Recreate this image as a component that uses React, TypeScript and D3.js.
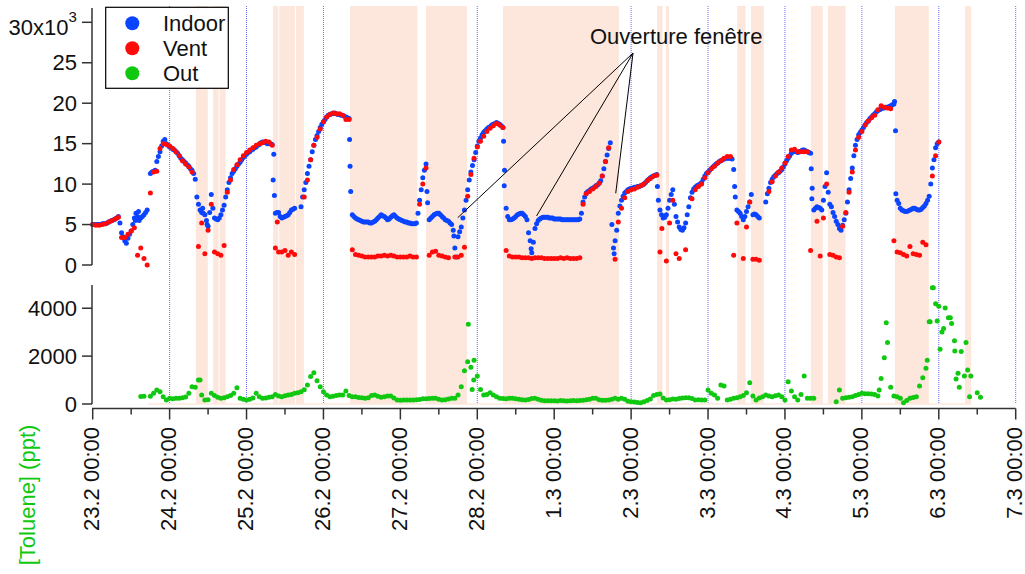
import React from 'react';
import * as d3 from 'd3';

// hours since 23.2 00:00, values in 10^3 ppt (top panel) and ppt (bottom panel)
const dayLabels = ['23.2 00:00', '24.2 00:00', '25.2 00:00', '26.2 00:00', '27.2 00:00', '28.2 00:00', '1.3 00:00',
  '2.3 00:00', '3.3 00:00', '4.3 00:00', '5.3 00:00', '6.3 00:00', '7.3 00:00'];
const topTicks = [0, 5, 10, 15, 20, 25, 30];
const bottomTicks = [0, 2000, 4000];

// indoor: one reading every half hour from 23.2 00:00
const indoorStart = 0;
const indoorStep = 0.5;
const indoor = [
  5.0, 5.0, 5.0, 5.0, 5.0, 5.0, 5.1, 5.1, 5.1, 5.2, 5.3, 5.4, 5.5, 5.6, 5.7, 5.8, 6.0, 5.2, 4.0, 3.5,
  3.0, 2.7, 3.3, 3.8, 4.2, 5.0, 5.8, 6.4, 6.0, 5.5, 5.8, 6.0, 6.2, 6.5, 6.8, null, 11.3, 11.5, 11.6, 11.7,
  12.8, 13.4, 14.0, 14.7, 15.3, 15.5, 15.0, 14.8, 14.6, 14.5, 14.3, 14.2, 14.0, 13.8, 13.5, 13.2, 13.0, 12.8, 12.6, 12.4,
  12.2, 11.9, 11.7, 11.3, 10.6, 8.4, 7.5, 6.8, 6.5, 6.4, 6.2, 5.5, 4.8, 6.5, 8.7, 7.0, 5.8, 5.7, 5.6, 5.8,
  6.2, 6.8, 7.4, 8.4, 9.3, 10.2, 10.8, 11.3, 11.6, 11.9, 12.2, 12.5, 12.7, 13.0, 13.3, 13.5, 13.7, 13.9, 14.0, 14.2,
  14.3, 14.5, 14.6, 14.8, 14.9, 15.1, 15.2, 15.2, 15.1, 15.0, 15.0, 15.0, 14.9, 13.7, 6.4, 6.5, 6.5, 6.0, 5.8, 5.9,
  6.0, 6.1, 6.2, 6.5, 6.8, 6.9, 7.0, null, null, null, 7.2, 8.4, 9.3, 10.2, 11.3, 12.2, 13.0, 14.0, 14.8, 15.5,
  16.0, 16.5, 17.0, 17.4, 17.7, 18.0, 18.3, 18.5, 18.6, 18.7, 18.7, 18.8, 18.7, 18.6, 18.6, 18.5, 18.5, 18.4, 18.3, 18.2,
  18.1, 9.1, 6.2, 6.0, 5.8, 5.7, 5.6, 5.5, 5.4, 5.3, 5.3, 5.3, 5.3, 5.2, 5.2, 5.3, 5.4, 5.6, 5.8, 6.0,
  6.2, 6.1, 6.0, 5.8, 5.6, 5.7, 5.9, 6.1, 6.2, 6.0, 5.8, 5.7, 5.6, 5.5, 5.4, 5.3, 5.3, 5.2, 5.2, 5.1,
  5.1, 5.1, 5.2, 6.4, 8.0, 9.3, 10.8, 11.7, 12.5, 7.7, 5.6, 5.8, 6.0, 6.2, 6.3, 6.4, 6.4, 6.2, 6.0, 5.8,
  5.6, 5.5, 5.4, 5.2, 5.0, 4.3, 2.1, 1.0, 3.5, 4.1, 4.7, 5.8, 6.8, 8.0, 9.3, 10.5, 11.5, 12.3, 13.0, 13.9,
  14.7, 15.3, 15.7, 16.1, 16.4, 16.6, 16.8, 17.0, 17.1, 17.3, 17.4, 17.5, 17.6, 17.5, 17.4, 17.2, 17.0, 11.7, 7.0, 6.0,
  5.6, 5.6, 5.7, 5.8, 6.0, 6.2, 6.3, 6.4, 6.4, 6.2, 6.0, 5.6, 4.0, 3.0, 1.5, 2.8, 4.5, 5.1, 5.5, 5.7,
  5.8, 5.9, 5.9, 5.9, 5.9, 5.8, 5.8, 5.8, 5.7, 5.7, 5.7, 5.7, 5.7, 5.6, 5.6, 5.6, 5.6, 5.6, 5.6, 5.6,
  5.6, 5.6, 5.6, 5.6, 5.7, 6.4, 7.8, 8.4, 8.9, 9.1, 9.2, 9.4, 9.5, 9.6, 9.8, 9.9, 10.1, 10.4, 11.0, 11.9,
  12.8, 13.6, 14.4, 15.1, 5.0, 2.1, 3.0, 4.3, 6.4, 7.3, 8.0, 8.5, 8.9, 9.1, 9.3, 9.4, 9.5, 9.5, 9.6, 9.6,
  9.7, 9.7, 9.8, 9.9, 10.0, 10.2, 10.4, 10.6, 10.8, 10.9, 11.0, 11.1, 11.2, 8.0, 6.8, 6.2, 5.8, 5.9, 6.2, 7.0,
  8.0, 8.7, 9.3, 7.5, 6.0, 5.3, 4.7, 4.4, 4.3, 4.6, 5.2, 6.2, 7.2, 8.3, 9.0, 9.4, 9.6, 9.8, 9.9, 10.0,
  10.2, 10.6, 11.0, 11.3, 11.5, 11.7, 11.9, 12.1, 12.3, 12.5, 12.6, 12.8, 12.9, 13.0, 13.1, 13.2, 13.2, 13.2, 13.2, 13.1,
  11.8, 8.4, 6.8, 6.6, 6.4, 6.0, 5.6, 6.0, 6.6, 7.2, 7.8, 8.7, 6.2, 6.3, 6.2, 6.0, 5.8, null, null, null,
  7.8, 8.8, 9.5, 10.2, 10.6, 10.9, 11.1, 11.3, 11.4, 11.6, 11.8, 12.1, 12.5, 12.9, 13.2, 13.5, 13.8, 14.0, 14.1, 14.0,
  13.9, 14.0, 14.1, 14.2, 14.2, 14.1, 14.0, 13.9, 13.8, 9.5, 6.8, 7.0, 7.2, 7.1, 7.0, 6.8, 8.0, 9.7, 11.4, 9.0,
  7.5, 7.2, 6.5, 6.0, 5.4, 5.0, 4.5, 4.3, 4.9, 5.6, 6.4, 7.8, 9.3, 10.7, 12.0, 13.5, 14.8, 15.5, 16.1, 16.4,
  16.7, 17.0, 17.3, 17.6, 17.8, 18.1, 18.3, 18.5, 18.7, 18.9, 19.1, 19.2, 19.3, 19.4, 19.4, 19.5, 19.5, 19.6, 19.7, 19.8,
  19.9, 16.6, 8.0, 7.6, 7.0, 6.8, 6.7, 6.6, 6.6, 6.7, 6.8, 6.9, 7.0, 7.0, 6.9, 6.8, 6.8, 6.9, 7.1, 7.3,
  7.6, 8.0, 8.5, 10.0, 12.0, 13.0, 14.5, 15.0, 15.2,
];
// scattered points during fast drops / rises: [hour, value]
const indoorExtra = [
  [13.3, 5.5], [14.3, 6.6], [34.3, 7.0], [35.7, 5.0], [56.3, 10.5], [56.7, 8.6],
  [80.15, 15.5], [80.3, 12.2], [104.3, 9.1], [112.7, 3.6], [128.2, 15.3], [128.4, 9.8],
  [136.8, 2.0], [162.7, 1.4], [176.2, 9.7], [200.3, 9.7], [224.2, 11.9], [224.4, 8.2],
  [250.2, 20.2], [250.6, 8.8],
];

const ventStart = 0;
const ventStep = 1;
const vent = [
  5.0, 4.9, 4.9, 5.0, 5.1, 5.3, 5.5, 5.7, 5.9, 3.4,
  3.4, 3.8, 4.2, 4.6, 1.2, 2.1, 0.8, 0.0, 8.9, 11.5,
  11.6, 14.4, 15.0, 14.9, 14.7, 14.4, 14.0, 13.5, 12.9, 12.5,
  12.1, 11.5, null, 2.3, 5.2, 1.4, 4.3, 7.5, 1.6, 1.4,
  1.2, 2.4, 9.0, 10.5, 11.8, 12.4, 13.0, 13.5, 13.9, 14.2,
  14.5, 14.8, 15.0, 15.1, 15.3, 15.2, 14.8, 2.1, 1.6, 1.6,
  1.8, 1.2, 1.6, 1.3, null, null, 8.4, 10.5, 13.0, 14.8,
  15.8, 16.8, 17.7, 18.3, 18.6, 18.8, 18.7, 18.7, 18.5, 18.0,
  18.0, 1.9, 1.3, 1.2, 1.1, 1.0, 1.0, 1.0, 1.0, 1.1,
  1.1, 1.2, 1.1, 1.2, 1.1, 1.0, 1.0, 1.0, 1.0, 1.1,
  1.0, 1.0, 7.5, 10.0, 12.0, 1.2, 1.6, 1.7, 1.2, 1.1,
  1.0, 0.9, null, 1.0, 1.0, 1.2, 2.2, 8.5, 11.2, 13.2,
  14.6, 15.3, 15.9, 16.5, 16.9, 17.2, 17.5, 17.3, 17.0, 1.8,
  1.1, 1.0, 1.0, 1.0, 0.9, 0.9, 0.9, 0.8, 0.9, 0.9,
  0.9, 0.8, 0.8, 0.8, 0.8, 0.8, 0.9, 0.8, 0.9, 0.8,
  0.8, 0.8, 0.9, 7.5, 8.8, 9.1, 9.4, 9.7, 10.1, 11.0,
  12.8, 14.5, null, 0.7, 5.3, 7.0, 8.3, 9.1, 9.3, 9.4,
  9.6, 9.8, 10.0, 10.4, 10.7, 11.0, 11.1, 1.6, null, 0.5,
  5.2, 8.0, 1.4, 0.8, null, 1.9, null, 8.2, 9.3, 9.7,
  10.0, 10.8, 11.4, 11.9, 12.2, 12.6, 12.9, 13.2, 13.4, 13.4,
  1.2, 5.2, null, 0.8, 4.7, 7.8, 0.7, 0.7, 0.6, null,
  null, 9.1, 10.3, 11.0, 11.5, 12.0, 12.6, 13.4, 14.2, 14.3,
  14.0, 14.0, 14.0, 14.0, 1.8, null, 5.4, 1.1, 5.8, 10.0,
  1.3, 1.2, 1.0, 0.9, 4.8, 6.5, 9.0, 11.5, 14.2, 15.8,
  16.5, 17.3, 17.8, 18.2, 18.5, 19.2, 19.7, 19.5, 19.4, 19.3,
  3.0, 1.6, 1.5, 1.3, 1.1, 2.3, 1.4, 1.3, 1.2, 2.8,
  2.5, null, 11.0, 13.5, 15.2,
];
const ventExtra = [[57.6, 5.3], [177.6, 4.5]];

const outStart = 15;
const outStep = 1;
const out = [
  310, 320, null, 320, 445, 580, 510, 300, 170, 235,
  220, 240, 235, 260, 290, 445, 720, 700, 1000, 380,
  170, 180, 445, 350, 280, 235, 260, 305, 350, 445,
  680, 235, 200, 170, 200, 250, 445, 300, 235, 250,
  280, 300, 400, 330, 305, 340, 375, 400, 445, 470,
  515, 600, 790, 1150, 1300, 970, 720, 515, 380, 305,
  320, 350, 375, 380, 540, 350, 305, 300, 270, 260,
  235, 260, 350, 375, 320, 280, 300, 330, 335, 250,
  170, 160, 165, 170, 170, 170, 180, 190, 220, 220,
  230, 235, 235, 200, 170, 180, 210, 235, 235, 375,
  720, 1390, 1765, 1530, 1830, 1170, 610, 375, 400, 470,
  380, 300, 235, 230, 220, 240, 235, 220, 200, 180,
  170, 190, 230, 235, 200, 160, 140, 140, 140, 140,
  130, 150, 140, 130, 140, 150, 140, 150, 160, 180,
  200, 235, 235, 180, 160, 160, 170, 200, 235, 200,
  235, 200, 110, 95, 80, 60, 55, 90, 150, 210,
  350, 400, 420, 250, 170, 180, 210, 200, 230, 250,
  265, 260, 230, 170, 180, 170, 170, 580, 450, 375,
  235, 790, 750, 170, 200, 235, 260, 305, 350, 470,
  890, 330, 170, 250, 300, 375, 330, 305, 340, 375,
  300, 170, 930, 540, 300, 170, 400, 1170, 235, 240,
  235, null, null, null, null, null, null, 95, 580, 235,
  260, 280, 305, 350, 400, 445, 430, 430, 420, 400,
  335, 1070, 1930, 2570, 695, 335, 300, 235, 55, 150,
  235, 270, 305, 750, 1100, 1490, 3430, 4860, 4190, 4080,
  3010, 4010, 3600, 3360, 2210, 1280, 2190, 1170, 1420, 1170,
  null, 470, 280,
];
const outExtra = [
  [33.5, 1000], [117.2, 3330], [118.4, 610], [118.9, 1000], [245.4, 580], [247.6, 3390],
  [260.4, 1830], [261.3, 3430], [262.3, 4860], [263.5, 3470], [264.4, 2290], [265.5, 3150],
  [267.6, 3600], [268.9, 2640], [269.4, 1040], [270.4, 695], [272.5, 2570], [273.6, 305],
];

// window-opening periods, [start hour, end hour]
const windows = [
  [32.2, 35.9], [37.6, 39.3], [39.6, 41.5], [56.3, 57.9], [58.2, 63.1], [63.4, 65.9],
  [80.3, 101.3], [104.0, 116.8], [128.0, 164.2], [176.1, 177.8], [178.9, 179.8],
  [201.1, 203.7], [205.4, 209.4], [224.1, 227.8], [229.4, 234.9], [250.3, 260.9], [272.2, 274.1],
];

// annotation "Ouverture fenêtre": label anchor and pointed points [hour, 10^3 ppt]
const noteFrom = [168.6, 26.2];
const noteTargets = [[113.9, 5.85], [138.5, 6.06], [163.2, 8.86]];

const FONT = 'Liberation Sans, Arial, Helvetica, sans-serif';
const BLUE = '#0a44ff';
const RED = '#ff0a0a';
const GREEN = '#10c810';
const SHADE = '#fde7dc';

export default function App() {
  const x = d3.scaleLinear().domain([0, 288]).range([92.7, 1015.7]);
  const yTop = d3.scaleLinear().domain([0, 30]).range([265, 22.3]);
  const yBot = d3.scaleLinear().domain([0, 4970]).range([404, 285]);
  const plotTop = 6;
  const axisX = 92;
  const xAxisY = 408.5;

  const dots = (start: number, step: number, vals: (number | null)[], extra: number[][], y: any, color: string) => {
    const pts: [number, number][] = [];
    vals.forEach((v, i) => { if (v != null) pts.push([start + i * step, v]); });
    extra.forEach(p => pts.push([p[0], p[1]]));
    return pts.map((p, i) => <circle key={i} cx={x(p[0])} cy={y(p[1])} r={2.5} fill={color} />);
  };

  const days = d3.range(dayLabels.length);

  return (
    <svg width={1025} height={574} style={{ position: 'absolute', left: 0, top: 0, background: '#fff' }}
      fontFamily={FONT} fontSize={22}>
      {/* day grid lines */}
      {days.slice(1).map(d => (
        <line key={d} x1={x(d * 24)} x2={x(d * 24)} y1={plotTop} y2={404} stroke="#6b6bff" strokeWidth={1} strokeDasharray="1,1" />
      ))}
      {/* window shading */}
      {windows.map((w, i) => (
        <rect key={i} x={x(w[0])} y={plotTop} width={x(w[1]) - x(w[0])} height={404 - plotTop} fill={SHADE} />
      ))}
      <line x1={x(17.3)} x2={x(274)} y1={yBot(0)} y2={yBot(0)} stroke={SHADE} strokeWidth={1.5} />

      {/* data */}
      <g>{dots(indoorStart, indoorStep, indoor, indoorExtra, yTop, BLUE)}</g>
      <g>{dots(ventStart, ventStep, vent, ventExtra, yTop, RED)}</g>
      <g>{dots(outStart, outStep, out, outExtra, yBot, GREEN)}</g>

      {/* axes */}
      <g stroke="#333" strokeWidth={1.5}>
        <line x1={axisX} x2={axisX} y1={8} y2={yTop(0)} />
        {topTicks.map(t => <line key={t} x1={axisX - 10} x2={axisX} y1={yTop(t)} y2={yTop(t)} />)}
        <line x1={axisX} x2={axisX} y1={285} y2={yBot(0)} />
        {bottomTicks.map(t => <line key={t} x1={axisX - 10} x2={axisX} y1={yBot(t)} y2={yBot(t)} />)}
        <line x1={axisX} x2={x(288)} y1={xAxisY} y2={xAxisY} />
        {days.map(d => <line key={d} x1={x(d * 24)} x2={x(d * 24)} y1={xAxisY} y2={xAxisY + 11} />)}
        {days.slice(0, -1).map(d => <line key={'m' + d} x1={x(d * 24 + 12)} x2={x(d * 24 + 12)} y1={xAxisY} y2={xAxisY + 6} />)}
      </g>
      <g fill="#111" textAnchor="end" dominantBaseline="central">
        {topTicks.slice(0, -1).map(t => <text key={t} x={77} y={yTop(t)}>{t}</text>)}
        <text x={68.5} y={yTop(30) + 5}>30x10</text>
        <text x={68.5} y={yTop(30) - 6} fontSize={15} textAnchor="start">3</text>
        {bottomTicks.map(t => <text key={t} x={77} y={yBot(t)}>{t}</text>)}
      </g>
      <g fill="#111" textAnchor="end" dominantBaseline="central">
        {dayLabels.map((lab, d) => (
          <text key={lab} transform={`translate(${x(d * 24) - 1},427) rotate(-90)`}>{lab}</text>
        ))}
      </g>
      <text transform="translate(27,495) rotate(-90)" textAnchor="middle" dominantBaseline="central" fill={GREEN}>
        [Toluene] (ppt)
      </text>

      {/* annotation */}
      <g stroke="#000" strokeWidth={1}>
        {noteTargets.map((p, i) => (
          <line key={i} x1={x(noteFrom[0])} y1={yTop(noteFrom[1])} x2={x(p[0])} y2={yTop(p[1])} />
        ))}
      </g>
      <text x={590} y={36} dominantBaseline="central" fill="#111">Ouverture fenêtre</text>

      {/* legend */}
      <rect x={105.7} y={7.3} width={122.6} height={81} fill="#fff" stroke="#000" strokeWidth={1.2} />
      {[['Indoor', BLUE], ['Vent', RED], ['Out', GREEN]].map(([name, c], i) => (
        <g key={name}>
          <circle cx={132.3} cy={23.3 + i * 25} r={7} fill={c} />
          <text x={163} y={23.3 + i * 25} dominantBaseline="central" fill="#111">{name}</text>
        </g>
      ))}
    </svg>
  );
}
